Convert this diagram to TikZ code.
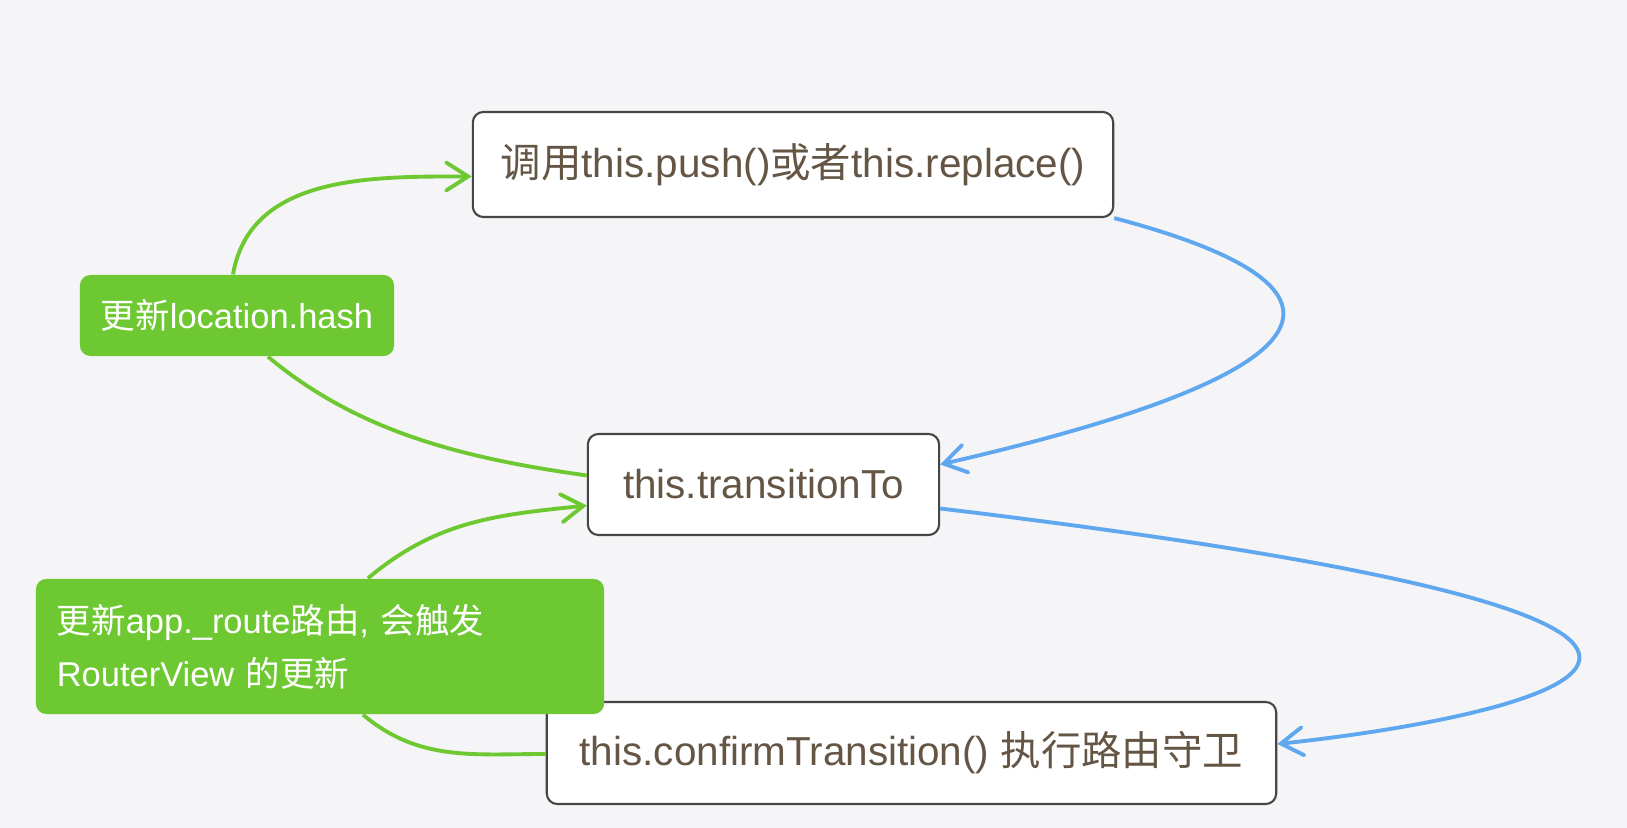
\documentclass[tikz,border=0pt]{standalone}
\usepackage{fontspec}
\setmainfont{Liberation Sans}
\newfontfamily\cjk{Noto Sans CJK SC}
\usetikzlibrary{arrows.meta, calc}
\definecolor{bgcol}{RGB}{245,244,246}
\definecolor{hashgreen}{RGB}{110,200,50}
\definecolor{flowblue}{RGB}{95,168,240}
\definecolor{textbrown}{RGB}{100,85,68}
\definecolor{framegray}{RGB}{70,70,70}

\begin{document}
\begin{tikzpicture}[x=0.01cm, y=0.01cm,
    callbox/.style={draw=framegray, line width=0.6pt, rounded corners=3pt, fill=white,
        text=textbrown, font=\fontsize{11.5}{14}\selectfont, inner sep=0pt},
    greentag/.style={fill=hashgreen, rounded corners=3pt, text=white,
        font=\fontsize{9.8}{15}\selectfont, inner sep=0pt},
    greenflow/.style={draw=hashgreen, line width=1.1pt},
    blueflow/.style={draw=flowblue, line width=1.1pt},
    barbtip/.style={-{Straight Barb[length=2.2mm,width=2.8mm,line cap=round]}}]
    \fill[bgcol] (0,0) rectangle (1627,828);
    \useasboundingbox (0,0) rectangle (1627,828);

    % boxes
    \node[callbox, minimum width=6.40cm, minimum height=1.05cm] (push) at (793,663.5)
        {{\cjk 调用}this.push(){\cjk 或者}this.replace()};
    \node[callbox, minimum width=3.51cm, minimum height=1.01cm] (trans) at (763.5,343.5)
        {this.transitionTo};
    \node[callbox, minimum width=7.29cm, minimum height=1.02cm] (confirm) at (911.5,75)
        {this.confirmTransition() {\cjk 执行路由守卫}};

    % green notes
    \node[greentag, minimum width=3.14cm, minimum height=0.81cm] (hash) at (237,512.5)
        {{\cjk 更新}location.hash};
    \node[greentag, minimum width=5.68cm, minimum height=1.35cm, text width=5.26cm,
        align=left] (router) at (320,181.5)
        {{\cjk 更新}app.\_route{\cjk 路由}, {\cjk 会触发}\\RouterView {\cjk 的更新}};

    % connectors
    \draw[greenflow, barbtip] ($(hash.north)+(-4,0)$) to[out=80,in=180] ($(push.west)+(0,-12)$);
    \draw[greenflow] ($(trans.west)+(0,9)$) to[out=172,in=-40,looseness=0.9] ($(hash.south)+(31,0)$);
    \draw[blueflow, barbtip] (push.south east)
        .. controls ($(push.south east)+(155,-41)$) and ($(trans.east)+(526,141)$)
        .. ($(trans.east)+(0,20)$);
    \draw[blueflow, barbtip] ($(trans.east)+(0,-24)$)
        .. controls ($(trans.east)+(1040,-149)$) and ($(confirm.east)+(209,31)$)
        .. ($(confirm.east)+(0,9)$);
    \draw[greenflow, barbtip] ($(router.north)+(48,0)$) to[out=40,in=186] ($(trans.west)+(0,-21)$);
    \draw[greenflow] ($(confirm.west)+(0,-1)$) to[out=180,in=-40] ($(router.south)+(43,0)$);
\end{tikzpicture}
\end{document}
